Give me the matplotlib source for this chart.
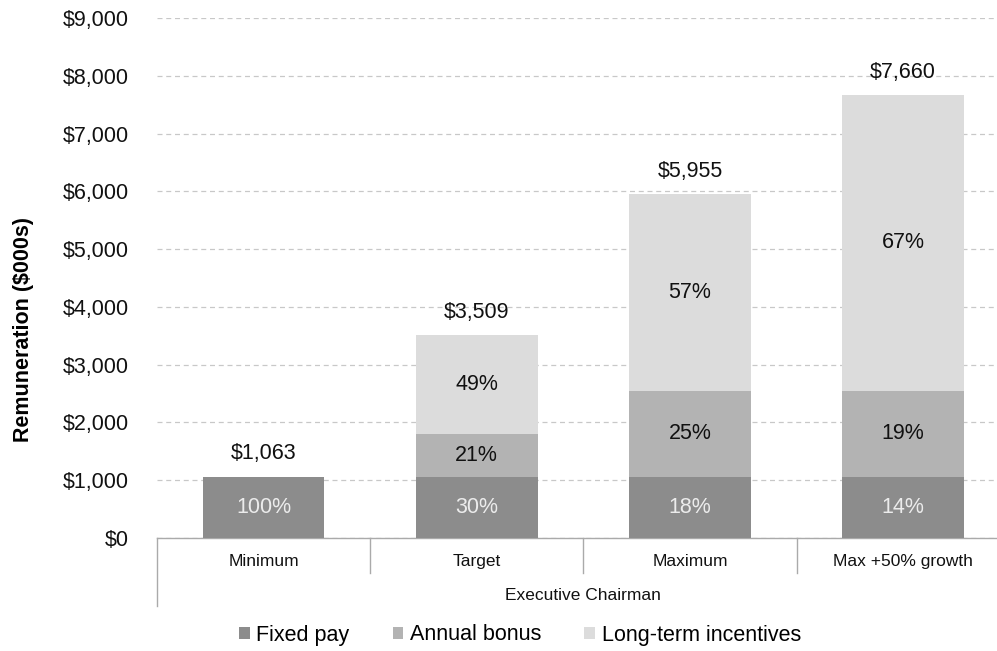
import matplotlib.pyplot as plt
from matplotlib.ticker import FuncFormatter

plt.rcParams['font.family'] = ['Liberation Sans', 'DejaVu Sans']

# data ($000s)
categories = ['Minimum', 'Target', 'Maximum', 'Max +50% growth']
fixed_pay = [1063, 1063, 1063, 1063]
annual_bonus = [0, 737, 1489, 1489]
lti = [0, 1709, 3403, 5108]
totals = ['$1,063', '$3,509', '$5,955', '$7,660']
pct_fixed = ['100%', '30%', '18%', '14%']
pct_bonus = ['', '21%', '25%', '19%']
pct_lti = ['', '49%', '57%', '67%']
group_label = 'Executive Chairman'

c_fixed = '#8c8c8c'
c_bonus = '#b3b3b3'
c_lti = '#dcdcdc'

fig = plt.figure(figsize=(9.97, 6.51), dpi=100)
ax = fig.add_axes([157 / 997, 1 - 538 / 651, 1 - 157 / 997, (538 - 18) / 651])

x = list(range(len(categories)))
w = 0.57
b1 = ax.bar(x, fixed_pay, w, color=c_fixed, label='Fixed pay', zorder=3)
b2 = ax.bar(x, annual_bonus, w, bottom=fixed_pay, color=c_bonus, label='Annual bonus', zorder=3)
bot3 = [a + b for a, b in zip(fixed_pay, annual_bonus)]
b3 = ax.bar(x, lti, w, bottom=bot3, color=c_lti, label='Long-term incentives', zorder=3)

# segment labels
fs = 15.5
for i in x:
    ax.text(i, fixed_pay[i] / 2, pct_fixed[i], ha='center', va='center', fontsize=fs, color='#ececec', zorder=4)
    if pct_bonus[i]:
        ax.text(i, fixed_pay[i] + annual_bonus[i] / 2, pct_bonus[i], ha='center', va='center', fontsize=fs, color='#111111', zorder=4)
    if pct_lti[i]:
        ax.text(i, bot3[i] + lti[i] / 2, pct_lti[i], ha='center', va='center', fontsize=fs, color='#111111', zorder=4)
    top = bot3[i] + lti[i]
    ax.text(i, top + 210, totals[i], ha='center', va='bottom', fontsize=fs, color='#111111', zorder=4)

ax.set_ylim(0, 9000)
ax.set_xlim(-0.5, 3.44)
ax.set_yticks(range(0, 9001, 1000))
ax.yaxis.set_major_formatter(FuncFormatter(lambda v, p: '${:,.0f}'.format(v)))
ax.tick_params(axis='y', length=0, pad=20, labelsize=fs, labelcolor='#111111')
ax.set_xticks([])
ax.grid(axis='y', color='#c8c8c8', linestyle=(0, (4, 3)), linewidth=0.9, zorder=0)
for s in ['top', 'right', 'left']:
    ax.spines[s].set_visible(False)
ax.spines['bottom'].set_color('#aaaaaa')
ax.spines['bottom'].set_linewidth(1.0)
ax.set_ylabel('Remuneration ($000s)', fontsize=fs, fontweight='bold')
ax.yaxis.set_label_coords(-0.146, 0.40)

# multi-level category axis
tr = ax.get_xaxis_transform()
for i, c in enumerate(categories):
    ax.text(i, -0.045, c, transform=tr, ha='center', va='center', fontsize=12.5, color='#111111')
for i in range(1, len(categories) + 1):
    ax.plot([i - 0.5, i - 0.5], [0, -0.067], transform=tr, color='#aaaaaa', lw=1.0, clip_on=False)
ax.plot([-0.5, -0.5], [0, -0.13], transform=tr, color='#aaaaaa', lw=1.0, clip_on=False)
ax.text(1.5, -0.110, group_label, transform=tr, ha='center', va='center', fontsize=12.5, color='#111111')

fig.legend(handles=[b1, b2, b3], loc='center', bbox_to_anchor=(520 / 997, 1 - 635 / 651),
           ncol=3, frameon=False, fontsize=fs, handlelength=0.5, handleheight=0.5,
           handletextpad=0.3, columnspacing=2.0)

fig.savefig('out.png', dpi=100)
